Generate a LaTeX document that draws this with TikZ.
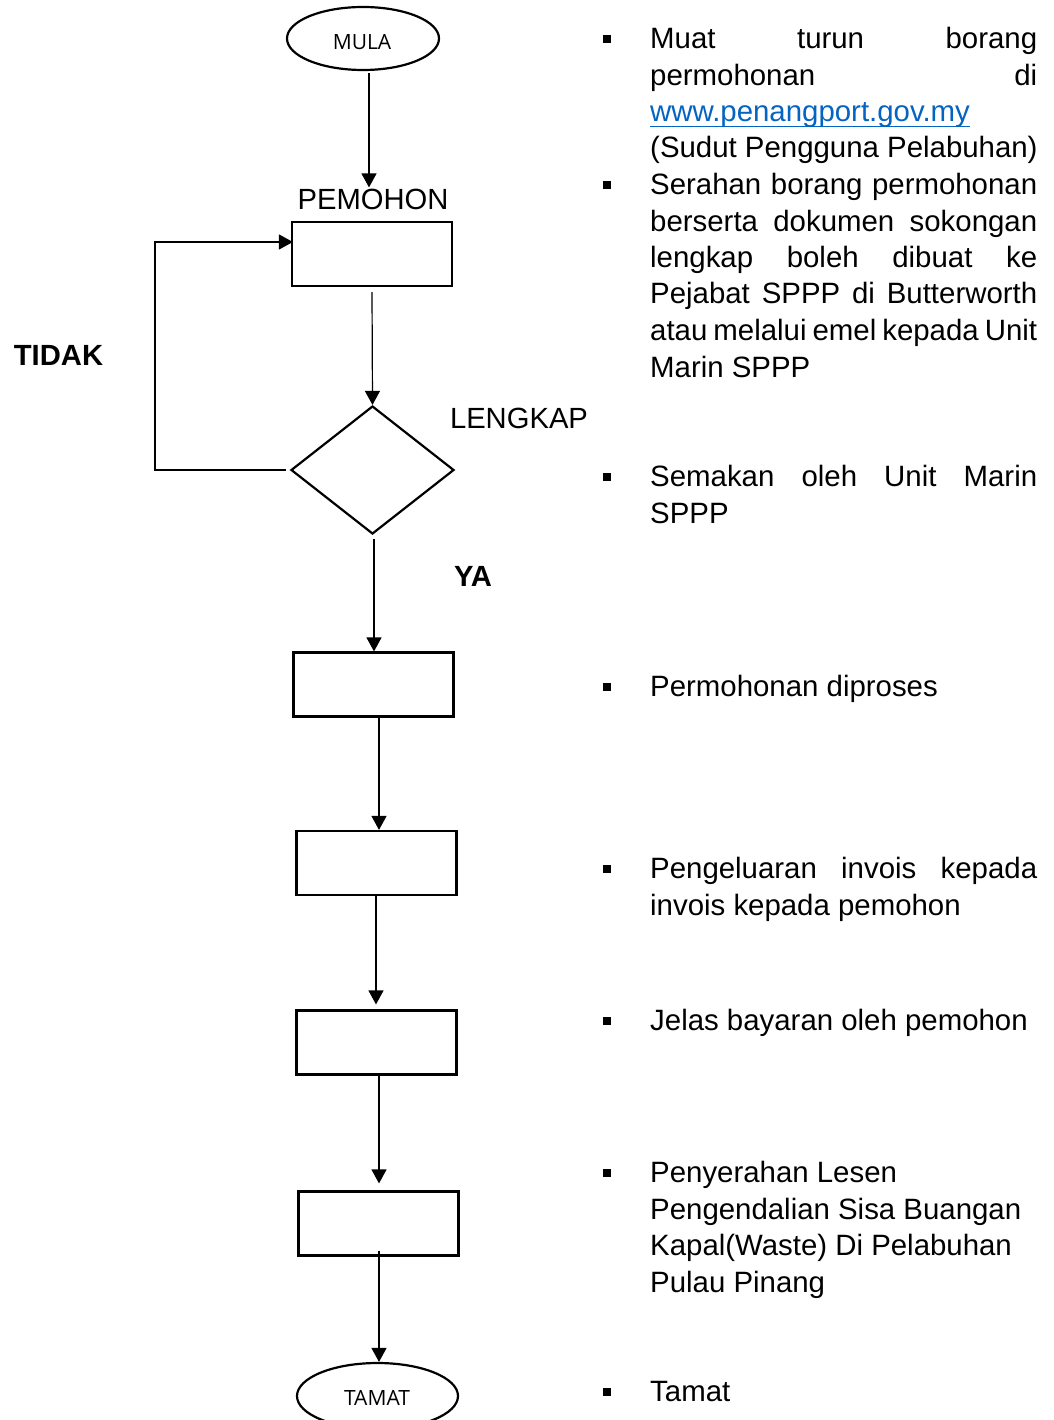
\documentclass[tikz,border=0pt]{standalone}
\usepackage{fontspec}
\setmainfont{Liberation Sans}
\newfontfamily\osans{Open Sans}
\usetikzlibrary{shapes.geometric,arrows.meta}
\definecolor{linkblue}{HTML}{0563C1}
\begin{document}
\begin{tikzpicture}[x=1pt,y=-1pt,
  box/.style={draw, line width=2.2pt, minimum width=160pt, minimum height=64pt, inner sep=0pt},
  term/.style={draw, ellipse, line width=2.2pt, inner sep=0pt, font=\osans\fontsize{21}{24}\selectfont},
  arr/.style={-{Triangle[width=15pt,length=14pt]}, line width=1.2pt},
  body/.style={anchor=base west, inner sep=0pt, font=\fontsize{29.4}{36}\selectfont},
  lbl/.style={anchor=base, inner sep=0pt, font=\fontsize{29.2}{36}\selectfont},
  blbl/.style={anchor=base, inner sep=0pt, font=\bfseries\fontsize{29.2}{36}\selectfont},
  bul/.style={fill, minimum size=8pt, inner sep=0pt}
]
\clip (0,0) rectangle (1053,1420);
\useasboundingbox (0,0) rectangle (1053,1420);

% flowchart
\node[term, minimum width=152pt, minimum height=63pt] (mula) at (363,38.5) {};
\node[anchor=base, inner sep=0pt, font=\osans\fontsize{21}{24}\selectfont] (mulat) at (362,50) {MULA};
\node[lbl] (pemlbl) at (373,210) {PEMOHON};
\node[box] (b1) at (372,254) {};
\node[draw, diamond, line width=2.2pt, minimum width=163pt, minimum height=128pt, inner sep=0pt] (dia) at (372.5,470) {};
\node[lbl] (lengkap) at (519,428) {LENGKAP};
\node[blbl] (tidak) at (58.5,365) {TIDAK};
\node[blbl] (ya) at (473,586) {YA};
\node[box] (b2) at (373.5,684.5) {};
\node[box] (b3) at (376.5,863) {};
\node[box] (b4) at (376.5,1042.5) {};
\node[box] (b5) at (378.5,1223.5) {};
\node[term, minimum width=161pt, minimum height=66pt] (tamat) at (377.5,1396) {};
\node[anchor=base, inner sep=0pt, font=\osans\fontsize{21}{24}\selectfont] (tamatt) at (377,1405) {TAMAT};

% connectors
\draw[arr] ([xshift=6pt,yshift=-2pt]mula.south) -- ([xshift=-4pt,yshift=2pt]pemlbl.north);
\draw[arr] ([yshift=-5pt]b1.south) -- (dia.north);
\draw[arr] ([xshift=1.5pt,yshift=-4pt]dia.south) -- ([xshift=0.5pt]b2.north);
\draw[arr] ([xshift=5.5pt]b2.south) -- ([xshift=2.5pt]b3.north);
\draw[arr] ([xshift=-0.5pt]b3.south) -- ([xshift=-0.5pt,yshift=5pt]b4.north);
\draw[arr] ([xshift=2.5pt,yshift=2pt]b4.south) -- ([xshift=0.5pt,yshift=7pt]b5.north);
\draw[arr] ([xshift=0.5pt,yshift=6pt]b5.south) -- ([xshift=1.5pt]tamat.north);
\draw[arr] ([xshift=-4pt]dia.west) -- ++(-131,0) |- ([xshift=2pt,yshift=12pt]b1.west);

% right-hand text
\node[bul] (u1) at (607,39) {};
\node[body] (t1a) at (650,49) {\makebox[387pt][s]{Muat turun borang}};
\node[body] (t1b) at (650,85.5) {\makebox[387pt][s]{permohonan di}};
\node[body, text=linkblue] (t1c) at (650,122) {www.penangport.gov.my};
\draw[linkblue, line width=1.8pt] ([yshift=-4.5pt]t1c.base west) -- ([yshift=-4.5pt]t1c.base east);
\node[body] (t1d) at (650,158) {(Sudut Pengguna Pelabuhan)};

\node[bul] (u2) at (607,185) {};
\node[body] (t2a) at (650,195) {\makebox[387pt][s]{Serahan borang permohonan}};
\node[body] (t2b) at (650,231.5) {\makebox[387pt][s]{berserta dokumen sokongan}};
\node[body] (t2c) at (650,268) {\makebox[387pt][s]{lengkap boleh dibuat ke}};
\node[body] (t2d) at (650,304) {\makebox[387pt][s]{Pejabat SPPP di Butterworth}};
\node[body] (t2e) at (650,340.5) {\makebox[387pt][s]{atau melalui emel kepada Unit}};
\node[body] (t2f) at (650,377) {Marin SPPP};

\node[bul] (u3) at (607,476.5) {};
\node[body] (t3a) at (650,486.5) {\makebox[387pt][s]{Semakan oleh Unit Marin}};
\node[body] (t3b) at (650,523) {SPPP};

\node[bul] (u4) at (607,686.5) {};
\node[body] (t4a) at (650,696.5) {Permohonan diproses};

\node[bul] (u5) at (607,868.5) {};
\node[body] (t5a) at (650,878.5) {\makebox[387pt][s]{Pengeluaran invois kepada}};
\node[body] (t5b) at (650,915) {invois kepada pemohon};

\node[bul] (u6) at (607,1020.5) {};
\node[body] (t6a) at (650,1030.5) {Jelas bayaran oleh pemohon};

\node[bul] (u7) at (607,1172.5) {};
\node[body] (t7a) at (650,1182.5) {Penyerahan Lesen};
\node[body] (t7b) at (650,1219) {Pengendalian Sisa Buangan};
\node[body] (t7c) at (650,1255.5) {Kapal(Waste) Di Pelabuhan};
\node[body] (t7d) at (650,1292) {Pulau Pinang};

\node[bul] (u8) at (607,1391.5) {};
\node[body] (t8a) at (650,1401.5) {Tamat};
\end{tikzpicture}
\end{document}
